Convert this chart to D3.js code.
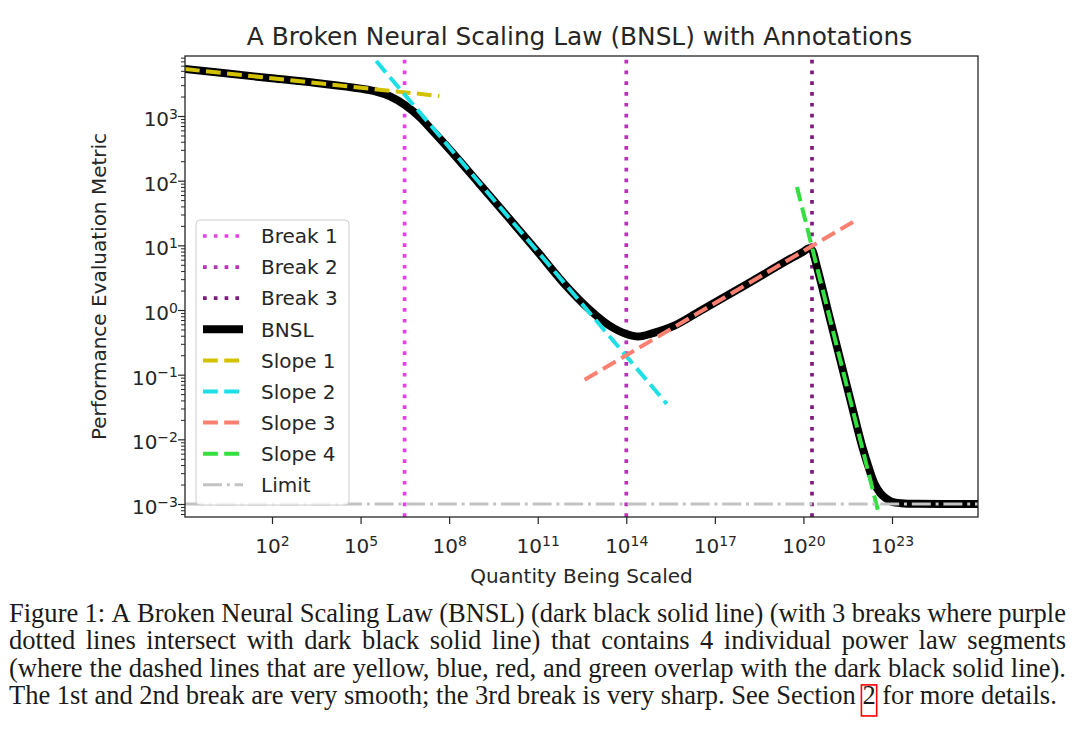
<!DOCTYPE html>
<html>
<head>
<meta charset="utf-8">
<script src="https://cdnjs.cloudflare.com/ajax/libs/d3/7.8.5/d3.min.js"></script>
<style>
  body { margin: 0; background: #fff; }
  svg { display: block; }
</style>
</head>
<body>
<svg id="fig" width="1080" height="744"></svg>
<script>
// break positions (x)
var breakX = [3.1e6, 1e14, 1.95e20];
var breakNames = ["Break 1", "Break 2", "Break 3"];
var breakColors = ["#e242e2", "#b633b6", "#7f1a7f"];

// BNSL curve (log10 of x, y)
var bnslLogX = [-0.95, 0.5, 2, 3.5, 5, 5.5, 6, 6.5, 7, 7.5, 8, 9, 10, 11, 12, 12.7, 13.4, 14, 14.4, 14.9,
    15.6, 16.5, 18.2, 19.6, 20.0, 20.18, 20.3, 20.45, 20.9, 21.6, 22.0, 22.2, 22.4, 22.6, 22.8, 23.0,
    23.3, 23.8, 24.8, 25.95];
var bnslY = [5320, 4530, 3830, 3240, 2650, 2400, 2010, 1480, 965, 550, 309, 92, 27.2, 7.9, 2.26, 1.07, 0.586, 0.426, 0.389, 0.44,
    0.566, 0.966, 2.69, 6.35, 8.0, 9.0, 8.3, 4.8, 0.725, 0.0393, 0.0075, 0.0038, 0.0021, 0.00148, 0.00122, 0.00108,
    0.00103, 0.001008, 0.001002, 0.001];

// straight power-law segments (end points, log10 of x / y)
var slopeNames = ["Slope 1", "Slope 2", "Slope 3", "Slope 4"];
var slopeColors = ["#d2c200", "#1de0e6", "#fa8072", "#33e040"];
var slopeLogX = [[-0.95, 7.67], [5.53, 15.37], [12.59, 21.68], [19.78, 22.56]];
var slopeY = [[5320, 2040], [7080, 0.0354], [0.0832, 23.0], [80, 0.00068]];

var limitY = 1e-3;
var limitColor = "#c3c3c3";

var xTickExps = [2, 5, 8, 11, 14, 17, 20, 23];
var yTickExps = [-3, -2, -1, 0, 1, 2, 3];

var captionLines = [
    "Figure 1: A Broken Neural Scaling Law (BNSL) (dark black solid line) (with 3 breaks where purple",
    "dotted lines intersect with dark black solid line) that contains 4 individual power law segments",
    "(where the dashed lines that are yellow, blue, red, and green overlap with the dark black solid line).",
    "The 1st and 2nd break are very smooth; the 3rd break is very sharp. See Section 2 for more details."
];

var font = "DejaVu Sans";
var ink = "#262626";
var L = 185, R = 978, T = 56, B = 517;

var svg = d3.select("#fig");

var x = d3.scaleLog()
    .domain([Math.pow(10, -0.947), Math.pow(10, 25.913)])
    .range([L, R]);
var y = d3.scaleLog()
    .domain([Math.pow(10, -3.201), Math.pow(10, 3.928)])
    .range([B, T]);

svg.append("defs").append("clipPath").attr("id", "plotclip")
    .append("rect").attr("x", L).attr("y", T).attr("width", R - L).attr("height", B - T);

var plot = svg.append("g").attr("clip-path", "url(#plotclip)");

var line = d3.line()
    .x(function (d) { return x(d[0]); })
    .y(function (d) { return y(d[1]); });

// breaks
plot.selectAll("line.break")
    .data(breakX)
    .enter()
    .append("line")
    .attr("class", "break")
    .attr("x1", function (d) { return x(d); })
    .attr("x2", function (d) { return x(d); })
    .attr("y1", B)
    .attr("y2", T)
    .attr("stroke", function (d, i) { return breakColors[i]; })
    .attr("stroke-width", 3.7)
    .attr("stroke-dasharray", "3.7 7.1");

// BNSL
var bnslPts = bnslLogX.map(function (lx, i) { return [Math.pow(10, lx), bnslY[i]]; });
plot.append("path")
    .datum(bnslPts)
    .attr("d", line.curve(d3.curveMonotoneX))
    .attr("fill", "none")
    .attr("stroke", "#000")
    .attr("stroke-width", 8)
    .attr("stroke-linejoin", "round");

// slopes
line.curve(d3.curveLinear);
slopeLogX.forEach(function (lx, i) {
    plot.append("path")
        .datum([[Math.pow(10, lx[0]), slopeY[i][0]], [Math.pow(10, lx[1]), slopeY[i][1]]])
        .attr("d", line)
        .attr("fill", "none")
        .attr("stroke", slopeColors[i])
        .attr("stroke-width", 4)
        .attr("stroke-dasharray", "14.8 6.4");
});

// limit
plot.append("line")
    .attr("x1", L).attr("x2", R)
    .attr("y1", y(limitY)).attr("y2", y(limitY))
    .attr("stroke", limitColor)
    .attr("stroke-width", 3)
    .attr("stroke-dasharray", "19 4.8 3 4.8");

// axes
function supLabel(sel, e) {
    sel.text(null);
    sel.append("tspan").text("10");
    sel.append("tspan")
        .attr("font-size", 14)
        .attr("dy", -7.5)
        .text(e < 0 ? "\u2212" + (-e) : String(e));
}

var gx = svg.append("g")
    .attr("transform", "translate(0," + B + ")")
    .call(d3.axisBottom(x)
        .tickValues(xTickExps.map(function (e) { return Math.pow(10, e); }))
        .tickSize(7).tickSizeOuter(0).tickFormat(""));
gx.select(".domain").remove();
gx.attr("font-family", font).attr("font-size", 20);
gx.selectAll(".tick line").attr("stroke", ink).attr("stroke-width", 1.2);
gx.selectAll(".tick text")
    .attr("y", 36).attr("dy", null).attr("fill", ink)
    .each(function (d, i) { supLabel(d3.select(this), xTickExps[i]); });

var yMinor = [];
for (var e = -4; e <= 3; e++) {
    for (var k = 2; k <= 9; k++) {
        var v = k * Math.pow(10, e);
        if (v > y.domain()[0] && v < y.domain()[1]) {
            yMinor.push(v);
        }
    }
}
var gym = svg.append("g")
    .attr("transform", "translate(" + L + ",0)")
    .call(d3.axisLeft(y).tickValues(yMinor).tickSize(4).tickSizeOuter(0).tickFormat(""));
gym.select(".domain").remove();
gym.selectAll(".tick line").attr("stroke", ink).attr("stroke-width", 1);

var gy = svg.append("g")
    .attr("transform", "translate(" + L + ",0)")
    .call(d3.axisLeft(y)
        .tickValues(yTickExps.map(function (e) { return Math.pow(10, e); }))
        .tickSize(7).tickSizeOuter(0).tickFormat(""));
gy.select(".domain").remove();
gy.attr("font-family", font).attr("font-size", 20);
gy.selectAll(".tick line").attr("stroke", ink).attr("stroke-width", 1.2);
gy.selectAll(".tick text")
    .attr("x", -7).attr("y", 9.5).attr("dy", null).attr("fill", ink)
    .each(function (d, i) { supLabel(d3.select(this), yTickExps[i]); });

// frame
svg.append("rect")
    .attr("x", L).attr("y", T)
    .attr("width", R - L).attr("height", B - T)
    .attr("fill", "none")
    .attr("stroke", ink)
    .attr("stroke-width", 1.3);

// titles
svg.append("text")
    .attr("x", (L + R) / 2 - 2).attr("y", 45)
    .attr("text-anchor", "middle")
    .attr("font-family", font).attr("font-size", 24.8).attr("fill", ink)
    .text("A Broken Neural Scaling Law (BNSL) with Annotations");

svg.append("text")
    .attr("x", (L + R) / 2).attr("y", 583)
    .attr("text-anchor", "middle")
    .attr("font-family", font).attr("font-size", 20).attr("fill", ink)
    .text("Quantity Being Scaled");

svg.append("text")
    .attr("transform", "translate(106," + (T + B) / 2 + ") rotate(-90)")
    .attr("text-anchor", "middle")
    .attr("font-family", font).attr("font-size", 20).attr("fill", ink)
    .text("Performance Evaluation Metric");

// legend
var legendItems = [];
breakNames.forEach(function (n, i) {
    legendItems.push({name: n, color: breakColors[i], width: 3.7, dash: "3.7 7.1"});
});
legendItems.push({name: "BNSL", color: "#000", width: 8, dash: null});
slopeNames.forEach(function (n, i) {
    legendItems.push({name: n, color: slopeColors[i], width: 4, dash: "14.8 6.4"});
});
legendItems.push({name: "Limit", color: limitColor, width: 3, dash: "19 4.8 3 4.8"});

var lg = svg.append("g");
lg.append("rect")
    .attr("x", 196).attr("y", 220)
    .attr("width", 153).attr("height", 285)
    .attr("rx", 4)
    .attr("fill", "#fff").attr("fill-opacity", 0.8)
    .attr("stroke", "#cccccc").attr("stroke-width", 1);

var entry = lg.selectAll("g.entry")
    .data(legendItems)
    .enter()
    .append("g")
    .attr("class", "entry")
    .attr("transform", function (d, i) { return "translate(0," + (236 + i * 31.1) + ")"; });

entry.append("line")
    .attr("x1", 203).attr("x2", 243)
    .attr("stroke", function (d) { return d.color; })
    .attr("stroke-width", function (d) { return d.width; })
    .attr("stroke-dasharray", function (d) { return d.dash; });

entry.append("text")
    .attr("x", 261).attr("dy", "0.36em")
    .attr("font-family", font).attr("font-size", 20).attr("fill", ink)
    .text(function (d) { return d.name; });

// caption
var capFont = "Liberation Serif";
var capLeft = 9, capRight = 1066, lastRight = 1057;
var capBase = [621.5, 649, 676.5, 704];
var meas = svg.append("text").attr("font-family", capFont).attr("visibility", "hidden");
function textW(s, fs) {
    meas.attr("font-size", fs).text(s);
    return meas.node().getComputedTextLength();
}
var capSize = 20 * (lastRight - capLeft) / textW(captionLines[3], 20);

var cap = svg.append("g")
    .attr("font-family", capFont)
    .attr("font-size", capSize)
    .attr("fill", "#1a1a1a");

captionLines.slice(0, 3).forEach(function (ln, li) {
    var words = ln.split(" ");
    var widths = words.map(function (w) { return textW(w, capSize); });
    var gap = (capRight - capLeft - d3.sum(widths)) / (words.length - 1);
    var cx = capLeft;
    words.forEach(function (w, wi) {
        cap.append("text").attr("x", cx).attr("y", capBase[li]).text(w);
        cx += widths[wi] + gap;
    });
});

var last = cap.append("text")
    .attr("x", capLeft).attr("y", capBase[3])
    .text(captionLines[3]);
var idx = captionLines[3].indexOf("Section 2") + 8;
var x0 = last.node().getStartPositionOfChar(idx).x;
var x1 = last.node().getEndPositionOfChar(idx).x;
cap.append("rect")
    .attr("x", x0 - 1).attr("y", capBase[3] - 0.72 * capSize)
    .attr("width", x1 - x0 + 2).attr("height", 1.17 * capSize)
    .attr("fill", "none")
    .attr("stroke", "#ff0000")
    .attr("stroke-width", 1.6);
meas.remove();
</script>
</body>
</html>
